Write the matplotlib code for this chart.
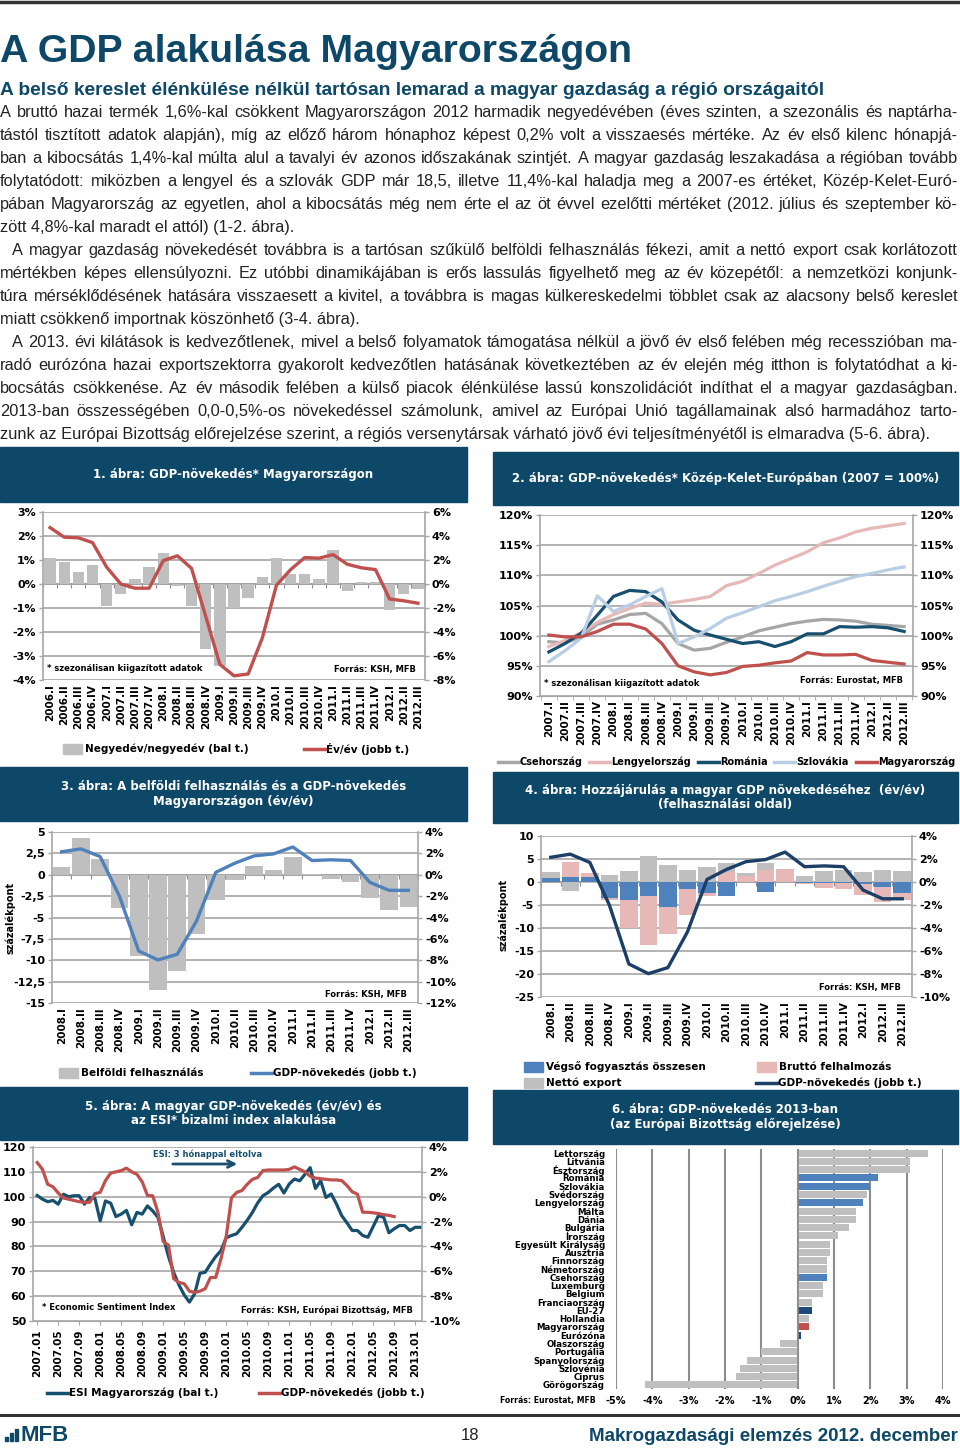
import numpy as np
import matplotlib
matplotlib.use('Agg')
import matplotlib.pyplot as plt
from matplotlib.patches import Rectangle
from matplotlib.lines import Line2D

plt.rcParams['font.family'] = ['DejaVu Sans']
plt.rcParams['font.weight'] = 'bold'

# ---------------- data ----------------
ROMAN = ['I', 'II', 'III', 'IV']
q_2006 = [f'{y}.{r}' for y in range(2006, 2013) for r in ROMAN][:27]
q_2007 = q_2006[4:]
q_2008 = q_2006[8:]

# 1. abra: negyedev/negyedev (bal) es ev/ev (jobb), %
gdp_qq = [1.1, 0.9, 0.5, 0.8, -0.9, -0.4, 0.2, 0.7, 1.3, -0.1, -0.9, -2.7, -3.4, -1.0,
          -0.6, 0.3, 1.1, 0.4, 0.4, 0.2, 1.4, -0.3, 0.1, 0.1, -1.1, -0.4, -0.2]
gdp_yy_06 = [4.7, 3.9, 3.85, 3.45, 1.4, 0.0, -0.35, -0.35, 1.95, 2.35, 1.3, -2.7, -6.7, -7.65,
             -7.5, -4.5, -0.1, 1.2, 2.2, 2.15, 2.45, 1.65, 1.35, 1.2, -1.25, -1.4, -1.6]

# 2. abra: 2007 = 100%
cee_cz = [99.0, 98.8, 99.8, 101.9, 102.6, 103.5, 103.7, 102.0, 98.7, 97.6, 97.9, 98.9,
          99.8, 100.8, 101.4, 102.0, 102.4, 102.7, 102.6, 102.4, 101.9, 101.7, 101.5]
cee_pl = [98.2, 99.2, 100.5, 102.2, 103.5, 104.5, 105.4, 105.2, 105.6, 106.0, 106.5, 108.3,
          109.0, 110.3, 111.7, 112.8, 113.9, 115.4, 116.2, 117.2, 117.8, 118.2, 118.6]
cee_ro = [97.3, 98.7, 100.4, 103.4, 106.5, 107.5, 107.3, 105.6, 102.6, 100.9, 100.1, 99.4,
          98.7, 99.0, 98.2, 99.0, 100.3, 100.3, 101.5, 101.4, 101.5, 101.3, 100.7]
cee_sk = [95.7, 97.5, 99.6, 106.6, 104.0, 105.1, 106.5, 107.8, 98.7, 99.8, 101.2, 102.9,
          103.8, 104.8, 105.8, 106.5, 107.3, 108.2, 109.0, 109.8, 110.3, 110.9, 111.4]
cee_hu = [100.1, 99.8, 99.8, 100.7, 101.9, 101.9, 101.1, 98.7, 95.0, 94.0, 93.5, 93.9,
          94.9, 95.1, 95.5, 95.8, 97.2, 96.8, 96.8, 96.9, 95.9, 95.6, 95.3]
cee_names = ['Csehország', 'Lengyelország', 'Románia', 'Szlovákia', 'Magyarország']

# 3-4. abra (2008.I - 2012.III)
domestic = [0.9, 4.3, 1.9, -3.9, -9.5, -13.5, -11.2, -6.9, -2.9, -0.6, 1.0, 0.6, 2.1,
            0.1, -0.5, -0.9, -2.75, -4.1, -3.8]
gdp_yy = [2.15, 2.42, 1.7, -2.0, -7.13, -7.97, -7.44, -4.34, 0.22, 1.09, 1.77, 1.95, 2.6,
          1.33, 1.4, 1.33, -0.71, -1.46, -1.46]
cons = [0.9, 1.1, 1.0, -3.4, -4.0, -3.0, -5.4, -1.6, -2.5, -3.1, -0.1, -2.1, -0.1, -0.3,
        -0.2, -0.2, -0.5, -1.0, -2.4]
invest = [0.0, 3.2, 0.9, -0.5, -5.9, -10.6, -5.9, -5.5, -0.6, 2.2, 1.3, 2.6, 2.8, -0.2,
          -1.0, -1.3, -2.3, -3.3, -1.6]
netexp = [1.2, -1.9, -0.2, 1.6, 2.4, 5.6, 3.7, 2.6, 3.2, 1.9, 0.7, 1.5, 0.0, 1.3, 2.4,
          2.6, 2.1, 2.6, 2.3]

# 5. abra: havi adatok 2007.01-tol
esi_hu = [100.5, 99.0, 98.0, 98.5, 97.0, 101.0, 100.0, 100.4, 100.4, 97.0, 99.7, 99.3,
          90.3, 98.3, 97.4, 92.0, 93.0, 94.5, 88.7, 93.7, 93.0, 96.3, 94.3, 91.7,
          84.0, 76.0, 69.5, 64.5, 60.5, 57.6, 61.0, 69.2, 69.6, 72.9, 75.9, 78.3,
          83.5, 84.4, 85.1, 87.7, 90.5, 93.7, 97.5, 100.4, 101.7, 103.5, 105.0, 101.5,
          105.1, 107.1, 106.4, 109.0, 111.7, 103.3, 106.4, 99.7, 101.1, 97.1, 92.4, 89.5,
          86.4, 86.4, 84.4, 83.7, 88.0, 92.4, 91.7, 85.5, 87.1, 88.4, 88.4, 86.4,
          87.7, 87.7]
gdp_yy_m = [2.75, 2.2, 1.0, 0.8, 0.3, -0.1, -0.2, -0.3, -0.4, -0.45, -0.45, 0.25,
            0.35, 1.3, 1.9, 2.0, 2.1, 2.3, 2.0, 1.8, 1.2, 0.1, 0.08, -1.25,
            -3.6, -3.9, -6.6, -6.9, -7.0, -7.6, -7.7, -7.6, -7.4, -6.5, -6.5, -5.0,
            -3.2, -0.1, 0.35, 0.5, 1.0, 1.4, 1.55, 2.1, 2.15, 2.15, 2.15, 2.15,
            2.2, 2.4, 2.2, 2.0, 1.65, 1.5, 1.45, 1.4, 1.35, 1.35, 1.3, 0.9,
            0.4, 0.2, -1.25, -1.25, -1.3, -1.35, -1.45, -1.5, -1.6]
month_labels = ['2007.01', '2007.05', '2007.09', '2008.01', '2008.05', '2008.09',
                '2009.01', '2009.05', '2009.09', '2010.01', '2010.05', '2010.09',
                '2011.01', '2011.05', '2011.09', '2012.01', '2012.05', '2012.09', '2013.01']

# 6. abra: EB elorejelzes 2013, %
countries = ['Lettország', 'Litvánia', 'Észtország', 'Románia', 'Szlovákia', 'Svédország',
             'Lengyelország', 'Málta', 'Dánia', 'Bulgária', 'Írország', 'Egyesült Királyság',
             'Ausztria', 'Finnország', 'Németország', 'Csehország', 'Luxemburg', 'Belgium',
             'Franciaország', 'EU-27', 'Hollandia', 'Magyarország', 'Eurózóna',
             'Olaszország', 'Portugália', 'Spanyolország', 'Szlovénia', 'Ciprus', 'Görögország']
forecast_2013 = [3.6, 3.1, 3.1, 2.2, 2.0, 1.9, 1.8, 1.6, 1.6, 1.4, 1.1, 0.9, 0.9, 0.8, 0.8,
                 0.8, 0.7, 0.7, 0.4, 0.4, 0.3, 0.3, 0.1, -0.5, -1.0, -1.4, -1.6, -1.7, -4.2]

# ---------------- style ----------------
W, H = 960, 1450
HEAD = '#0e4868'
GRID = '#a6a6a6'
BAR_GREY = '#bfbfbf'
RED = '#c0504d'
BLUE = '#4f81bd'
PINK = '#e6b9b8'
NAVY = '#1b3f66'
TEAL = '#17506e'
TXT = '#222222'

fig = plt.figure(figsize=(W / 100, H / 100), dpi=100)
renderer = fig.canvas.get_renderer()


def fy(y):
    return 1 - y / H


def rect(x0, y0, x1, y1):
    return [x0 / W, 1 - y1 / H, (x1 - x0) / W, (y1 - y0) / H]


def header(x0, y0, x1, y1, title):
    fig.patches.append(Rectangle((x0 / W, fy(y1)), (x1 - x0) / W, (y1 - y0) / H,
                                 transform=fig.transFigure, color=HEAD, zorder=0))
    fig.text((x0 + x1) / 2 / W, fy((y0 + y1) / 2), title, color='white', fontsize=8.5,
             ha='center', va='center', linespacing=1.15)


def style(ax, ax2=None, fs=8):
    for s in ax.spines.values():
        s.set_visible(False)
    ax.spines['left'].set_visible(True)
    ax.spines['left'].set_color(GRID)
    ax.spines['left'].set_linewidth(1.2)
    ax.yaxis.grid(True, color=GRID, lw=1.2)
    ax.set_axisbelow(True)
    ax.tick_params(axis='y', length=3, width=1, color=GRID, labelsize=fs, pad=2)
    ax.tick_params(axis='x', length=0, labelsize=7.5, labelrotation=90, pad=3)
    if ax2 is not None:
        for s in ax2.spines.values():
            s.set_visible(False)
        ax2.spines['right'].set_visible(True)
        ax2.spines['right'].set_color(GRID)
        ax2.spines['right'].set_linewidth(1.2)
        ax2.tick_params(axis='y', length=3, width=1, color=GRID, labelsize=fs, pad=2)


def zero_axis(ax, frac, n):
    sec = ax.secondary_xaxis(frac)
    sec.set_alignment('bottom')
    sec.set_xticks(np.arange(n + 1) - 0.5)
    sec.set_xticklabels([])
    sec.tick_params(length=3, color='#8c8c8c')
    for s in sec.spines.values():
        s.set_color('#8c8c8c')
        s.set_linewidth(1.2)


def leg(x, y, label, color, kind='line', fs=7.5):
    if kind == 'line':
        fig.add_artist(Line2D([x / W, (x + 21) / W], [fy(y), fy(y)], color=color, lw=2.5))
    else:
        fig.patches.append(Rectangle((x / W, fy(y + 5)), 19 / W, 10 / H,
                                     transform=fig.transFigure, color=color))
    fig.text((x + 22) / W, fy(y), label, fontsize=fs, va='center')


def note(ax, x, y, s, ha='left'):
    ax.text(x, y, s, transform=ax.transAxes, fontsize=6, ha=ha, va='center', zorder=5)


# ---------------- page text ----------------
fig.add_artist(Line2D([0, 1], [fy(2), fy(2)], color='#333333', lw=2.5))
fig.text(0, fy(62), 'A GDP alakulása Magyarországon', fontsize=28.3, color=HEAD,
         family=['Liberation Sans Narrow', 'Liberation Sans'], va='baseline')
fig.text(0, fy(95), 'A belső kereslet élénkülése nélkül tartósan lemarad a magyar gazdaság a '
         'régió országaitól', fontsize=13.8, color=HEAD,
         family=['Liberation Sans Narrow', 'Liberation Sans'], va='baseline')

body = [
    ('A bruttó hazai termék 1,6%-kal csökkent Magyarországon 2012 harmadik negyedévében (éves szinten, a szezonális és naptárha-', 0, True),
    ('tástól tisztított adatok alapján), míg az előző három hónaphoz képest 0,2% volt a visszaesés mértéke. Az év első kilenc hónapjá-', 0, True),
    ('ban a kibocsátás 1,4%-kal múlta alul a tavalyi év azonos időszakának szintjét. A magyar gazdaság leszakadása a régióban tovább', 0, True),
    ('folytatódott: miközben a lengyel és a szlovák GDP már 18,5, illetve 11,4%-kal haladja meg a 2007-es értéket, Közép-Kelet-Euró-', 0, True),
    ('pában Magyarország az egyetlen, ahol a kibocsátás még nem érte el az öt évvel ezelőtti mértéket (2012. július és szeptember kö-', 0, True),
    ('zött 4,8%-kal maradt el attól) (1-2. ábra).', 0, False),
    ('A magyar gazdaság növekedését továbbra is a tartósan szűkülő belföldi felhasználás fékezi, amit a nettó export csak korlátozott', 12, True),
    ('mértékben képes ellensúlyozni. Ez utóbbi dinamikájában is erős lassulás figyelhető meg az év közepétől: a nemzetközi konjunk-', 0, True),
    ('túra mérséklődésének hatására visszaesett a kivitel, a továbbra is magas külkereskedelmi többlet csak az alacsony belső kereslet', 0, True),
    ('miatt csökkenő importnak köszönhető (3-4. ábra).', 0, False),
    ('A 2013. évi kilátások is kedvezőtlenek, mivel a belső folyamatok támogatása nélkül a jövő év első felében még recesszióban ma-', 12, True),
    ('radó eurózóna hazai exportszektorra gyakorolt kedvezőtlen hatásának következtében az év elején még itthon is folytatódhat a ki-', 0, True),
    ('bocsátás csökkenése. Az év második felében a külső piacok élénkülése lassú konszolidációt indíthat el a magyar gazdaságban.', 0, True),
    ('2013-ban összességében 0,0-0,5%-os növekedéssel számolunk, amivel az Európai Unió tagállamainak alsó harmadához tarto-', 0, True),
    ('zunk az Európai Bizottság előrejelzése szerint, a régiós versenytársak várható jövő évi teljesítményétől is elmaradva (5-6. ábra).', 0, False),
]
body_kw = dict(fontsize=11.8, color=TXT, fontweight='normal',
               family=['Liberation Sans'], va='baseline')
for i, (line, indent, just) in enumerate(body):
    yb = 117 + 23 * i
    if not just:
        fig.text(indent / W, fy(yb), line, **body_kw)
        continue
    words = line.split(' ')
    arts = [fig.text(0, fy(yb), w, **body_kw) for w in words]
    widths = [a.get_window_extent(renderer).width for a in arts]
    gap = (958 - indent - sum(widths)) / (len(words) - 1)
    xx = indent
    for a, w in zip(arts, widths):
        a.set_x(xx / W)
        xx += w + gap

# ---------------- 1. abra ----------------
header(0, 447, 467, 502, '1. ábra: GDP-növekedés* Magyarországon')
ax = fig.add_axes(rect(43, 512, 425, 680))
x = np.arange(len(q_2006))
ax.bar(x, gdp_qq, width=0.8, color=BAR_GREY)
ax.set_xlim(-0.5, len(x) - 0.5)
ax.set_ylim(-4, 3)
ax.set_yticks(range(-4, 4), [f'{v}%' for v in range(-4, 4)])
ax.set_xticks(x, q_2006)
ax2 = ax.twinx()
ax2.plot(x, gdp_yy_06, color=RED, lw=2.4)
ax2.set_ylim(-8, 6)
ax2.set_yticks(range(-8, 7, 2), [f'{v}%' for v in range(-8, 7, 2)])
style(ax, ax2)
zero_axis(ax, 4 / 7, len(x))
note(ax, 0.01, 0.07, '* szezonálisan kiigazított adatok')
note(ax, 0.975, 0.065, 'Forrás: KSH, MFB', ha='right')
leg(63, 749, 'Negyedév/negyedév (bal t.)', BAR_GREY, 'patch')
leg(304, 749, 'Év/év (jobb t.)', RED)

# ---------------- 2. abra ----------------
header(493, 452, 958, 505, '2. ábra: GDP-növekedés* Közép-Kelet-Európában (2007 = 100%)')
ax = fig.add_axes(rect(540, 515, 913, 696))
x = np.arange(len(q_2007))
cee_colors = ['#a6a6a6', PINK, TEAL, '#b9cde5', RED]
for ser, col in zip([cee_cz, cee_pl, cee_ro, cee_sk, cee_hu], cee_colors):
    ax.plot(x, ser, color=col, lw=2.3)
ax.set_xlim(-0.55, len(x) - 0.45)
ax.set_ylim(90, 120)
ax.set_yticks(range(90, 121, 5), [f'{v}%' for v in range(90, 121, 5)])
ax.set_xticks(x, q_2007)
ax.set_xticks(np.arange(len(x) + 1) - 0.5, minor=True)
ax2 = ax.twinx()
ax2.set_ylim(90, 120)
ax2.set_yticks(range(90, 121, 5), [f'{v}%' for v in range(90, 121, 5)])
style(ax, ax2)
ax.spines['bottom'].set_visible(True)
ax.spines['bottom'].set_color(GRID)
ax.tick_params(axis='x', which='minor', length=3, color=GRID)
note(ax, 0.01, 0.07, '* szezonálisan kiigazított adatok')
note(ax, 0.973, 0.083, 'Forrás: Eurostat, MFB', ha='right')
for lx, name, col in zip([498, 589, 698, 774, 856], cee_names, cee_colors):
    leg(lx, 762, name, col, fs=7)

# ---------------- 3. abra ----------------
header(0, 767, 467, 821, '3. ábra: A belföldi felhasználás és a GDP-növekedés\nMagyarországon (év/év)')
ax = fig.add_axes(rect(52, 832, 418, 1003))
x = np.arange(len(q_2008))
ax.bar(x, domestic, width=0.92, color=BAR_GREY)
ax.set_xlim(-0.5, len(x) - 0.5)
ax.set_ylim(-15, 5)
lticks = np.arange(-15, 5.1, 2.5)
ax.set_yticks(lticks, [f'{v:g}'.replace('.', ',') for v in lticks])
ax.set_xticks(x, q_2008)
ax2 = ax.twinx()
ax2.plot(x, gdp_yy, color=BLUE, lw=2.4)
ax2.set_ylim(-12, 4)
ax2.set_yticks(range(-12, 5, 2), [f'{v}%' for v in range(-12, 5, 2)])
style(ax, ax2)
zero_axis(ax, 15 / 20, len(x))
note(ax, 0.97, 0.05, 'Forrás: KSH, MFB', ha='right')
fig.text(10 / W, fy(918), 'százalékpont', rotation=90, fontsize=7, ha='center', va='center')
leg(59, 1073, 'Belföldi felhasználás', BAR_GREY, 'patch')
leg(251, 1073, 'GDP-növekedés (jobb t.)', BLUE)

# ---------------- 4. abra ----------------
header(493, 772, 958, 823, '4. ábra: Hozzájárulás a magyar GDP növekedéséhez  (év/év)\n(felhasználási oldal)')
ax = fig.add_axes(rect(541, 836, 912, 997))
x = np.arange(len(q_2008))
pos = np.zeros(len(x))
neg = np.zeros(len(x))
for ser, col in zip([cons, invest, netexp], [BLUE, PINK, BAR_GREY]):
    v = np.array(ser)
    base = np.where(v >= 0, pos, neg)
    ax.bar(x, v, bottom=base, width=0.9, color=col)
    pos += np.clip(v, 0, None)
    neg += np.clip(v, None, 0)
ax.set_xlim(-0.5, len(x) - 0.5)
ax.set_ylim(-25, 10)
ax.set_yticks(range(-25, 11, 5), [str(v) for v in range(-25, 11, 5)])
ax.set_xticks(x, q_2008)
ax2 = ax.twinx()
ax2.plot(x, gdp_yy, color=NAVY, lw=2.4)
ax2.set_ylim(-10, 4)
ax2.set_yticks(range(-10, 5, 2), [f'{v}%' for v in range(-10, 5, 2)])
style(ax, ax2)
zero_axis(ax, 25 / 35, len(x))
note(ax, 0.97, 0.056, 'Forrás: KSH, MFB', ha='right')
fig.text(503 / W, fy(915), 'százalékpont', rotation=90, fontsize=7, ha='center', va='center')
leg(524, 1067, 'Végső fogyasztás összesen', BLUE, 'patch')
leg(757, 1067, 'Bruttó felhalmozás', PINK, 'patch')
leg(524, 1083, 'Nettó export', BAR_GREY, 'patch')
leg(756, 1083, 'GDP-növekedés (jobb t.)', NAVY)

# ---------------- 5. abra ----------------
header(0, 1087, 467, 1140, '5. ábra: A magyar GDP-növekedés (év/év) és\naz ESI* bizalmi index alakulása')
ax = fig.add_axes(rect(33, 1147, 422, 1321))
ax.plot(np.arange(len(esi_hu)), esi_hu, color=TEAL, lw=2.3)
ax.set_xlim(-0.8, 73.3)
ax.set_ylim(50, 120)
ax.set_yticks(range(50, 121, 10), [str(v) for v in range(50, 121, 10)])
ax.set_xticks(np.arange(len(month_labels)) * 4, month_labels)
ax2 = ax.twinx()
ax2.plot(np.arange(len(gdp_yy_m)), gdp_yy_m, color=RED, lw=2.3)
ax2.set_ylim(-10, 4)
ax2.set_yticks(range(-10, 5, 2), [f'{v}%' for v in range(-10, 5, 2)])
style(ax, ax2)
ax.spines['bottom'].set_visible(True)
ax.spines['bottom'].set_color(GRID)
ax.tick_params(axis='x', length=3, color=GRID)
note(ax, 0.023, 0.075, '* Economic Sentiment Index')
note(ax, 0.977, 0.063, 'Forrás: KSH, Európai Bizottság, MFB', ha='right')
fig.text(153 / W, fy(1154), 'ESI: 3 hónappal eltolva', color=TEAL, fontsize=6, va='center')
ax.annotate('', xy=(240 / W, fy(1164)), xytext=(170 / W, fy(1164)), xycoords='figure fraction',
            arrowprops=dict(arrowstyle='->', color=TEAL, lw=2, mutation_scale=12))
leg(47, 1393, 'ESI Magyarország (bal t.)', TEAL)
leg(259, 1393, 'GDP-növekedés (jobb t.)', RED)

# ---------------- 6. abra ----------------
header(493, 1090, 958, 1144, '6. ábra: GDP-növekedés 2013-ban\n(az Európai Bizottság előrejelzése)')
ax = fig.add_axes(rect(616, 1149, 943, 1389))
y = np.arange(len(countries))
bar_cols = []
for c in countries:
    if c in ('Románia', 'Szlovákia', 'Lengyelország', 'Csehország'):
        bar_cols.append(BLUE)
    elif c in ('EU-27', 'Eurózóna'):
        bar_cols.append('#1f497d')
    elif c == 'Magyarország':
        bar_cols.append(RED)
    else:
        bar_cols.append(BAR_GREY)
ax.barh(y, forecast_2013, height=0.85, color=bar_cols)
ax.set_xlim(-5, 4)
ax.set_ylim(len(countries) - 0.5, -0.5)
ax.set_yticks(y, countries)
ax.set_xticks(range(-5, 5), [f'{v}%' for v in range(-5, 5)])
for s in ax.spines.values():
    s.set_visible(False)
ax.xaxis.grid(True, color='#8c8c8c', lw=1.5)
ax.set_axisbelow(True)
ax.axvline(0, color='#8c8c8c', lw=1.2)
ax.tick_params(axis='y', length=0, labelsize=6.2, pad=8)
ax.tick_params(axis='x', length=0, labelsize=7, pad=5)
fig.text(500 / W, fy(1400), 'Forrás: Eurostat, MFB', fontsize=5.6, va='center')

# ---------------- footer ----------------
fig.add_artist(Line2D([0, 1], [fy(1415), fy(1415)], color='#333333', lw=2.2))
for bx0, bh in [(5, 4), (10, 8), (15, 12)]:
    fig.patches.append(Rectangle((bx0 / W, fy(1441)), 3 / W, bh / H,
                                 transform=fig.transFigure, color=HEAD))
fig.text(20 / W, fy(1441), 'MFB', fontsize=16, color=HEAD, va='baseline',
         family=['Liberation Sans Narrow', 'Liberation Sans'])
fig.text(470 / W, fy(1440), '18', fontsize=12, color=TXT, fontweight='normal', ha='center',
         va='baseline', family=['Liberation Sans Narrow', 'Liberation Sans'])
fig.text(958 / W, fy(1441), 'Makrogazdasági elemzés 2012. december', fontsize=13.5, color=HEAD,
         ha='right', va='baseline', family=['Liberation Sans Narrow', 'Liberation Sans'])

fig.savefig('out.png', dpi=100)
